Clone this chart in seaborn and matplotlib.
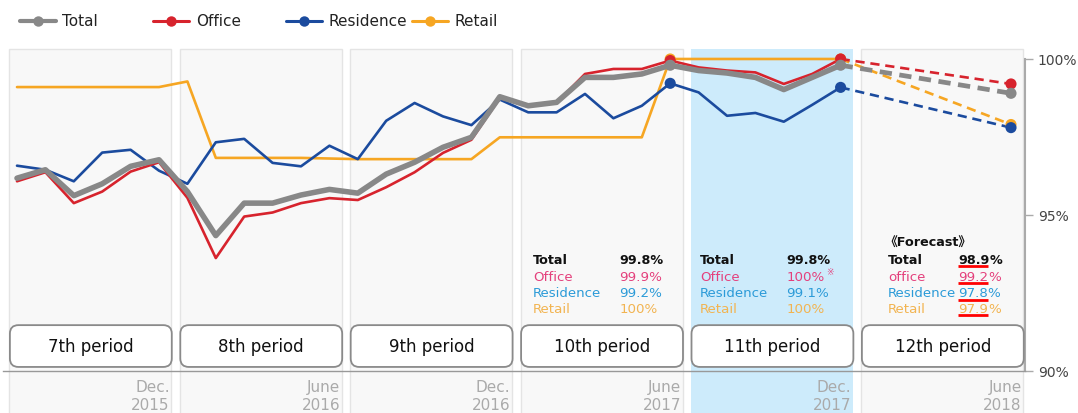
import numpy as np
import pandas as pd
import matplotlib
matplotlib.use("Agg")
import matplotlib.pyplot as plt
import seaborn as sns
from matplotlib.patches import Rectangle, FancyBboxPatch
from matplotlib.lines import Line2D

# ---------------- data ----------------
# monthly occupancy rates, Jul 2015 .. Dec 2017 (month index 0..29)
total = [96.18, 96.45, 95.62, 96.00, 96.56, 96.77,
         95.75, 94.34, 95.38, 95.38, 95.64, 95.82,
         95.70, 96.31, 96.69, 97.17, 97.49, 98.79,
         98.50, 98.61, 99.41, 99.41, 99.52, 99.80,
         99.63, 99.55, 99.41, 99.02, 99.41, 99.80]
office = [96.08, 96.37, 95.38, 95.75, 96.39, 96.69,
          95.55, 93.62, 94.95, 95.08, 95.38, 95.54,
          95.48, 95.89, 96.37, 96.99, 97.41, 98.75,
          98.50, 98.60, 99.52, 99.68, 99.68, 99.95,
          99.73, 99.63, 99.57, 99.20, 99.52, 100.0]
residence = [96.58, 96.45, 96.08, 97.00, 97.09, 96.42,
             96.00, 97.33, 97.44, 96.67, 96.56, 97.22,
             96.79, 98.02, 98.59, 98.16, 97.88, 98.70,
             98.29, 98.29, 98.88, 98.10, 98.50, 99.22,
             98.93, 98.18, 98.27, 97.99, 98.53, 99.09]
retail = [99.10, 99.10, 99.10, 99.10, 99.10, 99.10,
          99.28, 96.83, 96.83, 96.83, 96.83, 96.81,
          96.79, 96.79, 96.79, 96.79, 96.79, 97.49,
          97.49, 97.49, 97.49, 97.49, 97.49, 100.0,
          100.0, 100.0, 100.0, 100.0, 100.0, 100.0]
forecast = {"Total": 98.9, "Office": 99.2, "Residence": 97.8, "Retail": 97.9}
forecast_month = 35
marker_months = [23, 29, 35]

series_names = ["Retail", "Residence", "Office", "Total"]
periods = ["7th period", "8th period", "9th period",
           "10th period", "11th period", "12th period"]
period_end_month = ["Dec.", "June", "Dec.", "June", "Dec.", "June"]
period_end_year = ["2015", "2016", "2016", "2017", "2017", "2018"]

summary_10 = ["99.8%", "99.9%", "99.2%", "100%"]
summary_11 = ["99.8%", "100%", "99.1%", "100%"]
summary_12 = ["98.9", "99.2", "97.8", "97.9"]

# ---------------- styles ----------------
colors = {"Total": "#888888", "Office": "#d7232d",
          "Residence": "#1b4b9e", "Retail": "#f6a623"}
widths = {"Total": 4.0, "Office": 1.9, "Residence": 1.9, "Retail": 1.9}
text_colors = ["#111111", "#e4407c", "#2c9bd8", "#f2b451"]

values = {"Total": total, "Office": office, "Residence": residence, "Retail": retail}
n = len(total)
df = pd.concat([pd.DataFrame({"month": np.arange(n), "value": values[s], "series": s})
                for s in series_names], ignore_index=True)

sns.set_style("white")
plt.rcParams["font.family"] = ["DejaVu Sans", "Noto Sans CJK JP"]

fig = plt.figure(figsize=(10.78, 4.14), dpi=100)
ax = fig.add_axes([2.8 / 1078, 42 / 414, 1022.4 / 1078, 322 / 414])
ax.set_xlim(-0.5, 35.5)
ax.set_ylim(90, 100.32)

# period panels (extend below the axis)
for k in range(6):
    x0, x1 = 6 * k - 0.27, 6 * k + 5.44
    if k == 4:
        fc, ec = "#cdebfb", "none"
    else:
        fc, ec = "#f8f8f8", "#e4e4e4"
    ax.add_patch(Rectangle((x0, 88.4), x1 - x0, 100.32 - 88.4, facecolor=fc,
                           edgecolor=ec, lw=1, zorder=0, clip_on=False))

# actual lines
sns.lineplot(data=df, x="month", y="value", hue="series", hue_order=series_names,
             palette=colors, size="series", sizes=widths, size_order=series_names,
             legend=False, ax=ax, zorder=2)

# forecast dashed lines
for s in series_names:
    fx = [n - 1, forecast_month]
    fy = [values[s][-1], forecast[s]]
    sns.lineplot(x=fx, y=fy, color=colors[s], lw=widths[s] * (0.85 if s == "Total" else 1.0),
                 ax=ax, zorder=2)
    ln = ax.lines[-1]
    ln.set_dashes([3.5, 2.2] if s != "Total" else [2.6, 1.6])
    ln.set_solid_capstyle("butt")

# markers
for s in series_names:
    my = [values[s][23], values[s][29], forecast[s]]
    sns.scatterplot(x=marker_months, y=my, color=colors[s], s=64,
                    edgecolor="none", ax=ax, zorder=3)

# axes styling
for sp in ["left", "top"]:
    ax.spines[sp].set_visible(False)
ax.spines["bottom"].set_color("#999999")
ax.spines["bottom"].set_linewidth(1.0)
ax.spines["right"].set_color("#aaaaaa")
ax.spines["right"].set_linewidth(1.5)
ax.spines["right"].set_bounds(90, 100)
ax.yaxis.tick_right()
ax.set_yticks([90, 95, 100])
ax.set_yticklabels(["90%", "95%", "100%"])
ax.tick_params(axis="y", length=6, width=1, color="#aaaaaa", labelcolor="#444444",
               labelsize=10, pad=3)
ax.set_xticks(np.arange(-0.5, 36, 1))
ax.set_xticklabels([])
ax.tick_params(axis="x", length=3, width=0.8, color="#aaaaaa")
ax.set_xlabel("")
ax.set_ylabel("")
ax.grid(False)

# period label boxes
for k, name in enumerate(periods):
    x0, x1 = 6 * k - 0.25, 6 * k + 5.45
    ax.add_patch(FancyBboxPatch((x0, 90.13), x1 - x0, 1.34,
                                boxstyle="round,pad=0,rounding_size=0.3",
                                mutation_aspect=0.91, facecolor="white",
                                edgecolor="#8a8a8a", lw=1.3, zorder=4))
    ax.text((x0 + x1) / 2, 90.8, name, ha="center", va="center", fontsize=12,
            color="#111111", zorder=5)
    ax.text(6 * k + 5.38, 89.5, period_end_month[k], ha="right", va="center",
            fontsize=11, color="#aaaaaa", clip_on=False)
    ax.text(6 * k + 5.38, 88.93, period_end_year[k], ha="right", va="center",
            fontsize=11, color="#aaaaaa", clip_on=False)

# summary text blocks
row_y = [93.56, 93.04, 92.50, 91.99]
labels_a = ["Total", "Office", "Residence", "Retail"]
labels_b = ["Total", "office", "Residence", "Retail"]

def block(xl, xv, labels, vals, underline=False):
    for i, (lab, val) in enumerate(zip(labels, vals)):
        w = "bold" if i == 0 else "normal"
        fs = 9.2 if i == 0 else 9.6
        ax.text(xl, row_y[i], lab, ha="left", va="center", fontsize=fs,
                fontweight=w, color=text_colors[i], zorder=5)
        t = ax.text(xv, row_y[i], val, ha="left", va="center", fontsize=fs,
                    fontweight=w, color=text_colors[i], zorder=5)
        if underline:
            ax.plot([xv + 0.02, xv + 1.05], [row_y[i] - 0.21] * 2, color="#ff0000",
                    lw=2.0, zorder=5, solid_capstyle="butt")
            ax.annotate("%", xy=(1, 0.5), xycoords=t, xytext=(0, 0),
                        textcoords="offset points", ha="left", va="center",
                        fontsize=fs, fontweight=w, color=text_colors[i], zorder=5)
    return

block(18.17, 21.2, labels_a, summary_10)
block(24.05, 27.08, labels_a, summary_11)
block(30.67, 33.13, labels_b, summary_12, underline=True)

# reference mark after 11th office value
t_ref = [t for t in ax.texts if t.get_text() == "100%" and abs(t.get_position()[0] - 27.08) < 0.01
         and abs(t.get_position()[1] - row_y[1]) < 0.01][0]
ax.annotate("※", xy=(1, 0.85), xycoords=t_ref, xytext=(1, 0), textcoords="offset points",
            ha="left", va="center", fontsize=6.5, color="#e4407c", zorder=5)

ax.text(30.55, 94.13, "《Forecast》", ha="left", va="center", fontsize=9.2,
        fontweight="bold", color="#111111", zorder=5,
        family=["DejaVu Sans", "Noto Sans CJK JP"])

# legend (manual, top)
leg_y = 1 - 22 / 414
leg_items = [("Total", 20, 62), ("Office", 153, 196), ("Residence", 286, 328), ("Retail", 412, 455)]
for name, lx, tx in leg_items:
    lw = 3.0 if name == "Total" else 2.2
    fig.add_artist(Line2D([lx / 1078, (lx + 36) / 1078], [leg_y, leg_y], color=colors[name],
                          lw=lw, transform=fig.transFigure))
    fig.add_artist(Line2D([(lx + 18) / 1078], [leg_y], color=colors[name], marker="o",
                          markersize=7.5, markeredgewidth=0, transform=fig.transFigure))
    fig.text(tx / 1078, leg_y, name, ha="left", va="center", fontsize=11, color="#222222")

fig.savefig("out.png", dpi=100)
